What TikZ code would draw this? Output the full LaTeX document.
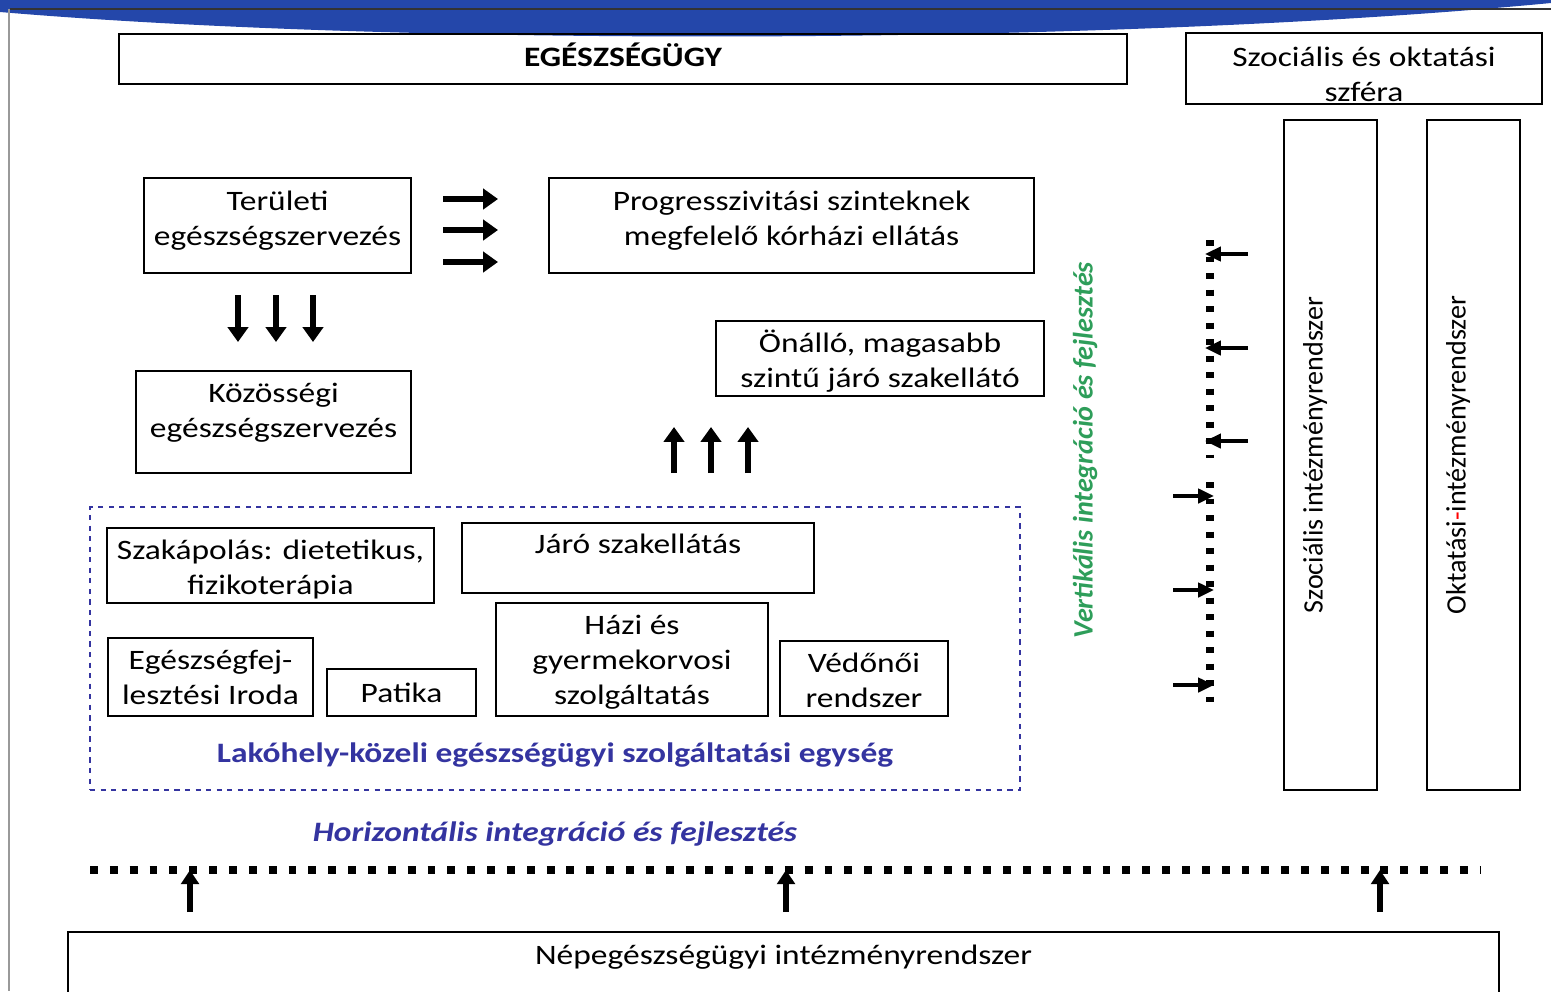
\documentclass[tikz,border=0pt]{standalone}
\usepackage{fontspec}
\setmainfont[FakeStretch=1.19]{Carlito}
\newfontfamily\plainfont{Carlito}
\usetikzlibrary{arrows.meta}
\definecolor{slideblue}{RGB}{36,71,170}
\definecolor{darkviolet}{RGB}{52,52,160}
\definecolor{vertgreen}{RGB}{46,158,90}
% text block moved up or down without changing the box
\newcommand{\lift}[2][-1.5pt]{\raisebox{#1}[\height][\depth]{\begin{tabular}{@{}c@{}}#2\end{tabular}}}

\begin{document}
\begin{tikzpicture}[x=0.02cm, y=-0.02cm,
    box/.style={draw, rectangle, line width=1.2pt, align=center, inner sep=0pt,
      font=\fontsize{16}{20}\selectfont},
    fat/.style={line width=3.2pt, -{Triangle[length=8.5pt,width=11.5pt]}},
    thin arrow/.style={line width=2.2pt, -{Triangle[length=9pt,width=8pt]}},
    dots/.style={line width=5pt, dash pattern=on 3.4pt off 6pt}]
    \useasboundingbox (0,0) rectangle (1551,991);

    % slide header
    \fill[slideblue] (0,0) -- (1551,0) -- (1551,3) .. controls (1100,46) and (400,46) .. (0,12) -- cycle;
    \draw[black!80, line width=0.6pt] (10,9) -- (1551,9);
    \draw[black!40, line width=0.6pt] (9,9) -- (9,991);

    % top row
    \node (ege) [box, minimum width=20.16cm, minimum height=1cm] at (623,59) {\lift[0pt]{\bfseries EGÉSZSÉGÜGY}};
    \node (szfera) [box, minimum width=7.12cm, minimum height=1.38cm] at (1364,68.5) {\lift[-4.6pt]{Szociális és oktatási\\szféra}};
    \node (szocint) [box, rotate=90, minimum width=13.4cm, minimum height=1.86cm] at (1330.5,455) {\lift[8.5pt]{\plainfont Szociális intézményrendszer}};
    \node (oktint) [box, rotate=90, minimum width=13.4cm, minimum height=1.86cm] at (1473.5,455) {\lift[8.5pt]{\plainfont Oktatási{\color{red}-}intézményrendszer}};

    % organisation
    \node (terul) [box, minimum width=5.34cm, minimum height=1.9cm] at (277.5,225.5) {\lift[2.8pt]{Területi\\egészségszervezés}};
    \node (progr) [box, minimum width=9.7cm, minimum height=1.9cm] at (791.5,225.5) {\lift[2.8pt]{Progresszivitási szinteknek\\megfelelő kórházi ellátás}};
    \node (kozos) [box, minimum width=5.5cm, minimum height=2.04cm] at (273.5,422) {\lift[5pt]{Közösségi\\egészségszervezés}};
    \node (onallo) [box, minimum width=6.56cm, minimum height=1.5cm] at (880,358.5) {\lift[-2.3pt]{Önálló, magasabb\\szintű járó szakellátó}};

    \foreach \y in {199,230,262}
        \draw[fat] (443,\y) -- (498,\y);
    \foreach \x in {238,276,313}
        \draw[fat] (\x,295) -- (\x,342);
    \foreach \x in {674,711,748}
        \draw[fat] (\x,473) -- (\x,427);

    % local unit
    \node (egyseg) [draw=darkviolet, dashed, line width=1.2pt, minimum width=18.6cm, minimum height=5.66cm] at (555,648.5) {};
    \node (szakap) [box, minimum width=6.54cm, minimum height=1.5cm] at (270.5,565.5) {\lift[-2.3pt]{Szakápolás: dietetikus,\\fizikoterápia}};
    \node (jaro) [box, minimum width=7.04cm, minimum height=1.4cm,
        label={[anchor=north, inner sep=6.5pt, font=\fontsize{16}{20}\selectfont]north:Járó szakellátás}] at (638,558) {};
    \node (egfej) [box, minimum width=4.1cm, minimum height=1.56cm] at (210.5,677) {\lift{Egészségfej-\\lesztési Iroda}};
    \node (patika) [box, minimum width=2.98cm, minimum height=0.94cm] at (401.5,692.5) {\lift{Patika}};
    \node (hazi) [box, minimum width=5.44cm, minimum height=2.26cm] at (632,659.5) {\lift{Házi és\\gyermekorvosi\\szolgáltatás}};
    \node (vedo) [box, minimum width=3.36cm, minimum height=1.5cm] at (864,678.5) {\lift[-2.3pt]{Védőnői\\rendszer}};
    \node (egyseglabel) [text=darkviolet, font=\fontsize{16}{20}\selectfont\bfseries] at (555,755) {Lakóhely-közeli egészségügyi szolgáltatási egység};

    % integration
    \node (horiz) [text=darkviolet, font=\fontsize{16}{20}\selectfont\bfseries\itshape] at (555,834) {Horizontális integráció és fejlesztés};
    \node (vert) [text=vertgreen, rotate=90, font=\fontsize{16}{20}\plainfont\bfseries\itshape] at (1085,450) {Vertikális integráció és fejlesztés};

    \draw[dots] (1210,240) -- (1210,458);
    \draw[dots] (1210,482) -- (1210,702);
    \foreach \y in {254,348,441}
        \draw[thin arrow] (1248,\y) -- (1205,\y);
    \foreach \y in {496,590,685}
        \draw[thin arrow] (1173,\y) -- (1214,\y);

    \draw[line width=4.5pt, dash pattern=on 4.5pt off 6.8pt] (90,870) -- (1480,870);
    \node (nep) [box, minimum width=28.62cm, minimum height=1.5cm,
        label={[anchor=north, inner sep=7.5pt, font=\fontsize{16}{20}\selectfont]north:Népegészségügyi intézményrendszer}] at (783.5,969.5) {};
    \foreach \x in {190,786,1380}
        \draw[line width=3pt, -{Triangle[length=8pt,width=10pt]}] (\x,912) -- (\x,870);
\end{tikzpicture}
\end{document}
